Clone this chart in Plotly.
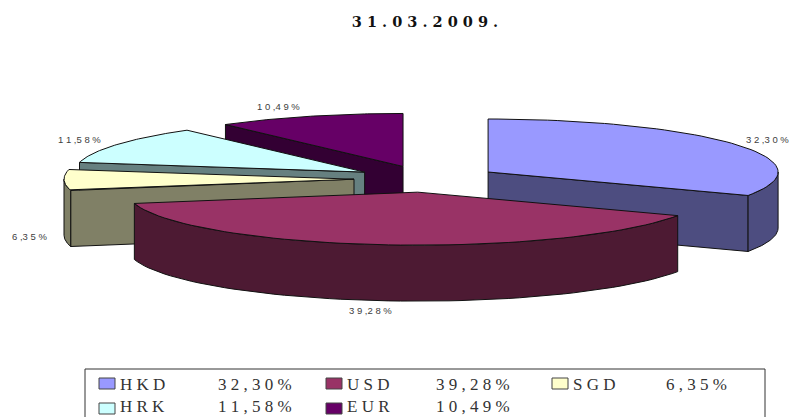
import numpy as np
import plotly.graph_objects as go

currencies = ["HKD", "USD", "SGD", "HRK", "EUR"]
shares = [32.30, 39.28, 6.35, 11.58, 10.49]
top_colors = ["#9999FF", "#993366", "#FFFFCC", "#CCFFFF", "#660066"]
side_colors = ["#4D4D80", "#4D1A33", "#808066", "#668080", "#330033"]
title_text = "<b>3 1 . 0 3 . 2 0 0 9 .</b>"

# projection of the 3D pie, in page pixels
CX, CY = 426.5, 179.0
RX, RY = 290.0, 53.0
DEPTH = 56.0
EXPLODE = 0.25
LINE = "#111111"

label_pos = {"HKD": (767, 139), "USD": (370, 310.5), "SGD": (29.5, 236.5), "HRK": (79, 139.5), "EUR": (278, 106.5)}
draw_order = ["EUR", "HRK", "SGD", "HKD", "USD"]


def fmt(v):
    return f"{v:.2f}".replace(".", ",")


def spaced(s):
    return " ".join(s)


def rim(cx, cy, a0, a1, n=60):
    t = np.radians(np.linspace(a0, a1, n))
    return cx + RX * np.sin(t), cy - RY * np.cos(t)


fig = go.Figure()


def poly(xs, ys, fill, name):
    fig.add_trace(go.Scatter(
        x=list(xs) + [xs[0]], y=list(ys) + [ys[0]], mode="lines", fill="toself",
        fillcolor=fill, line=dict(color=LINE, width=1), name=name,
        hoverinfo="name", showlegend=False))


total = sum(shares)
edges = np.concatenate([[0], np.cumsum(shares)]) / total * 360
for name in draw_order:
    i = currencies.index(name)
    a0, a1 = edges[i], edges[i + 1]
    mid = np.radians((a0 + a1) / 2)
    cx = CX + EXPLODE * RX * np.sin(mid)
    cy = CY - EXPLODE * RY * np.cos(mid)
    for ang, show in ((a0, np.sin(np.radians(a0)) < -1e-6), (a1, np.sin(np.radians(a1)) > 1e-6)):
        if show:
            rx, ry = cx + RX * np.sin(np.radians(ang)), cy - RY * np.cos(np.radians(ang))
            poly([cx, rx, rx, cx], [cy, ry, ry + DEPTH, cy + DEPTH], side_colors[i], name)
    w0, w1 = max(a0, 90), min(a1, 270)
    if w1 > w0:
        xs, ys = rim(cx, cy, w0, w1)
        poly(list(xs) + list(xs[::-1]), list(ys) + list(ys[::-1] + DEPTH), side_colors[i], name)
    xs, ys = rim(cx, cy, a0, a1)
    poly([cx] + list(xs), [cy] + list(ys), top_colors[i], name)

for name, share in zip(currencies, shares):
    x, y = label_pos[name]
    whole, frac = fmt(share).split(",")
    txt = spaced(whole) + " ," + spaced(frac) + " %"
    fig.add_annotation(x=x, y=y, text=txt, showarrow=False,
                       font=dict(family="Liberation Sans", size=9.5, color="#404040"))

# legend box
shapes = [dict(type="rect", x0=85, x1=765, y0=369, y1=430, line=dict(color="#333333", width=1),
               fillcolor="rgba(0,0,0,0)")]
legend_cols = [(99, 118, 216), (326, 345, 434), (552, 571, 664)]
legend_rows = [384, 406.5]
swatch_rows = [384, 409]
for k, (name, share) in enumerate(zip(currencies, shares)):
    sx, tx, vx = legend_cols[k % 3]
    ly = legend_rows[k // 3]
    sy = swatch_rows[k // 3]
    shapes.append(dict(type="rect", x0=sx, x1=sx + 16, y0=sy - 6, y1=sy + 5,
                       fillcolor=top_colors[k], line=dict(color="#444444", width=1)))
    fig.add_annotation(x=tx, y=ly, xanchor="left", text=spaced(name), showarrow=False,
                       font=dict(family="Liberation Serif", size=17, color="#333333"))
    fig.add_annotation(x=vx, y=ly, xanchor="left", text=spaced(fmt(share) + "%"), showarrow=False,
                       font=dict(family="Liberation Serif", size=17, color="#333333"))

fig.update_layout(
    width=796, height=417, autosize=False, margin=dict(l=0, r=0, t=0, b=0),
    paper_bgcolor="white", plot_bgcolor="white", showlegend=False, shapes=shapes,
    title=dict(text=title_text, x=425 / 796, y=1 - 22 / 417, xanchor="center", yanchor="middle",
               font=dict(family="DejaVu Serif", size=14.5, color="#111111")),
    xaxis=dict(range=[0, 796], visible=False, fixedrange=True),
    yaxis=dict(range=[417, 0], visible=False, fixedrange=True),
)
fig.write_html("out.html", config={"displayModeBar": False},
               post_script="document.body.style.margin='0';")
